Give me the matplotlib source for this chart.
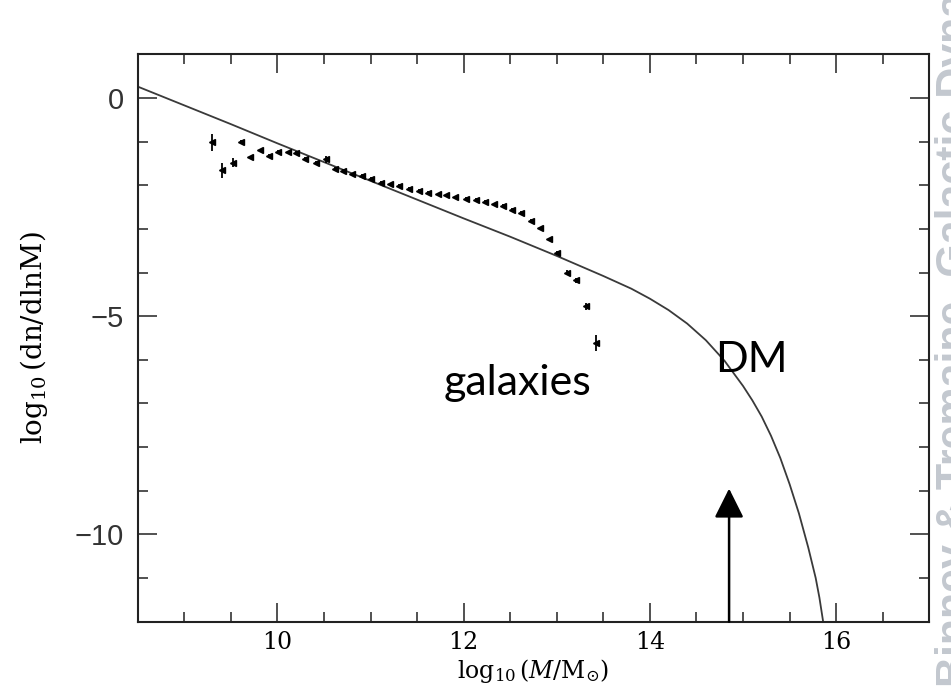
import numpy as np
import matplotlib
matplotlib.use("Agg")
import matplotlib.pyplot as plt
from matplotlib.ticker import MultipleLocator

# dark matter halo mass function
dm_logm = [8.5, 9.0, 9.5, 10.0, 10.5, 11.0, 11.5, 12.0, 12.5, 13.0, 13.5, 13.8,
           14.0, 14.2, 14.4, 14.6, 14.8, 15.0, 15.1, 15.2, 15.3, 15.4, 15.5,
           15.6, 15.7, 15.78, 15.82, 15.86]
dm_logn = [0.26, -0.17, -0.60, -1.04, -1.47, -1.90, -2.33, -2.76, -3.18, -3.62,
           -4.08, -4.37, -4.60, -4.86, -5.17, -5.55, -6.02, -6.60, -6.93, -7.30,
           -7.74, -8.25, -8.85, -9.52, -10.30, -11.00, -11.45, -12.0]

# galaxy mass function points
gal_logm = [9.30, 9.41, 9.52, 9.61, 9.71, 9.81, 9.91, 10.01, 10.11, 10.20, 10.30,
            10.41, 10.52, 10.62, 10.70, 10.80, 10.91, 11.00, 11.11, 11.21, 11.31,
            11.41, 11.52, 11.62, 11.72, 11.81, 11.91, 12.02, 12.13, 12.23, 12.33,
            12.42, 12.52, 12.62, 12.72, 12.82, 12.92, 13.00, 13.11, 13.21, 13.31,
            13.42]
gal_logn = [-1.02, -1.66, -1.48, -1.00, -1.36, -1.20, -1.33, -1.23, -1.25, -1.26,
            -1.40, -1.48, -1.40, -1.62, -1.67, -1.75, -1.79, -1.86, -1.94, -1.98,
            -2.02, -2.08, -2.13, -2.17, -2.21, -2.23, -2.28, -2.32, -2.34, -2.38,
            -2.44, -2.48, -2.57, -2.64, -2.82, -2.99, -3.24, -3.55, -4.00, -4.18,
            -4.77, -5.62]
gal_err = [0.20, 0.17, 0.10, 0.04, 0.04, 0.04, 0.04, 0.04, 0.04, 0.04, 0.04,
           0.04, 0.08, 0.04, 0.04, 0.04, 0.04, 0.04, 0.04, 0.04, 0.04, 0.04,
           0.04, 0.04, 0.04, 0.04, 0.04, 0.04, 0.04, 0.04, 0.04, 0.04, 0.04,
           0.04, 0.04, 0.04, 0.04, 0.05, 0.05, 0.05, 0.08, 0.18]

arrow_x = 14.85
arrow_top = -8.95

plt.rcParams['mathtext.fontset'] = 'dejavuserif'

fig = plt.figure(figsize=(9.51, 6.89), dpi=100)
ax = fig.add_axes([0.1448, 0.0977, 0.8324, 0.8235])

ax.plot(dm_logm, dm_logn, color="#3a3a3a", lw=1.3)
ax.errorbar(gal_logm, gal_logn, yerr=gal_err, fmt="<", color="black",
            ms=4.2, elinewidth=1.3, capsize=0)

ax.annotate("", xy=(arrow_x, arrow_top), xytext=(arrow_x, -12),
            arrowprops=dict(arrowstyle="-|>,head_length=0.9,head_width=0.45",
                            mutation_scale=20, lw=1.8, color="black",
                            shrinkA=0, shrinkB=0))

ax.text(11.79, -6.80, "galaxies", fontsize=31, family="Lato")
ax.text(14.70, -6.27, "DM", fontsize=31, family="Lato")

ax.set_xlim(8.5, 17)
ax.set_ylim(-12, 1)
ax.xaxis.set_major_locator(MultipleLocator(2))
ax.xaxis.set_minor_locator(MultipleLocator(0.5))
ax.yaxis.set_major_locator(MultipleLocator(5))
ax.yaxis.set_minor_locator(MultipleLocator(1))

ax.tick_params(which="both", direction="in", top=True, right=True,
               width=1.1, color="#222222")
ax.tick_params(which="major", length=14)
ax.tick_params(which="minor", length=7)
ax.tick_params(axis="x", pad=7)
ax.tick_params(axis="y", pad=10)
for lab in ax.get_xticklabels():
    lab.set_family("DejaVu Serif")
    lab.set_fontsize(17)
for lab in ax.get_yticklabels():
    lab.set_family("Liberation Sans")
    lab.set_fontsize(21)
    lab.set_color("#333333")
for s in ax.spines.values():
    s.set_linewidth(1.5)
    s.set_color("#222222")

ax.set_xlabel(r"$\log_{10}(M/\mathrm{M}_{{\odot}})$", fontsize=17, labelpad=2)
ax.set_ylabel(r"$\log_{10}(\mathrm{dn/dlnM})$", fontsize=20, labelpad=18)

# watermark running up the right edge, partly cut off like in the scan
fig.text(966 / 951, 2 / 689, "Binney & Tremaine, Galactic Dynamics",
         rotation=90, rotation_mode="anchor", ha="left", va="baseline",
         fontsize=31, fontweight="bold", color="#c3c8cf",
         family="Liberation Sans")

fig.savefig("out.png", dpi=100, facecolor="white")
